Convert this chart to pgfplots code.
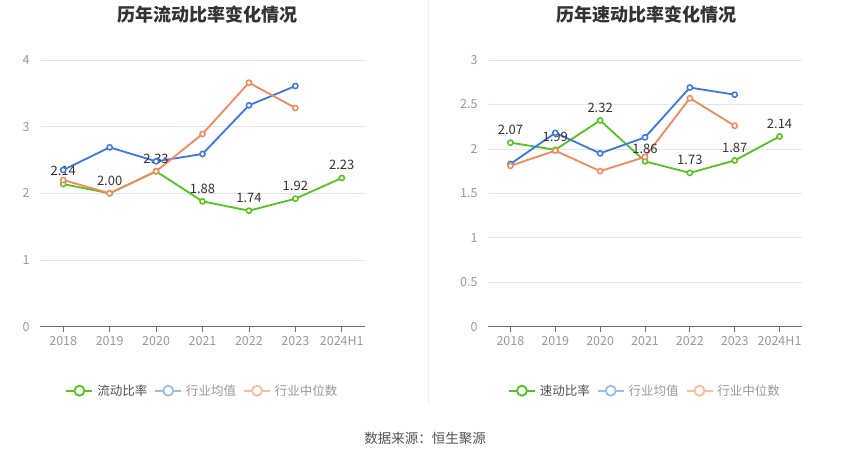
\documentclass[border=0pt]{standalone}
\usepackage{pgfplots}
\pgfplotsset{compat=1.18}
\usepackage{fontspec}
\setmainfont{Noto Sans CJK SC}
\definecolor{cgreen}{HTML}{52C41A}
\definecolor{cblue}{HTML}{3A76E6}
\definecolor{corange}{HTML}{F5875A}
\definecolor{cbluef}{HTML}{9DBBF3}
\definecolor{corangef}{HTML}{F9BDA3}
\definecolor{gridc}{HTML}{E0E6F1}
\definecolor{axisc}{HTML}{6E7079}
\definecolor{tickc}{HTML}{999999}
\definecolor{labc}{HTML}{333333}
\definecolor{titlec}{HTML}{333333}
\definecolor{sepc}{HTML}{EEEEEE}
\pgfplotsset{
  myax/.style={
    scale only axis, clip=false,
    xmin=-0.5, xmax=6.5, ymin=0,
    xtick={0,1,2,3,4,5,6},
    xticklabels={2018,2019,2020,2021,2022,2023,2024H1},
    ymajorgrids, grid style={gridc, line width=0.8pt},
    axis x line*=bottom, axis y line*=left,
    x axis line style={axisc, line width=0.8pt, -},
    y axis line style={draw=none},
    ytick style={draw=none},
    xtick style={axisc, line width=0.8pt},
    tick align=outside, major tick length=5pt,
    ticklabel style={font=\fontsize{12.5}{14}\selectfont, text=tickc},
    xticklabel style={yshift=-1pt},
    yticklabel style={xshift=-2pt},
    /pgf/number format/assume math mode=true,
    legend columns=3,
    legend style={draw=none, fill=none, font=\fontsize{12.5}{15}\selectfont,
      at={(0.5,-0.24)}, anchor=center,
      /tikz/every odd column/.style={column sep=2pt},
      /tikz/every even column/.style={column sep=5pt}},
    legend cell align=left,
    legend image code/.code={
      \draw[##1, line width=1.8pt] (0pt,0pt) -- (26pt,0pt);
      \draw[##1, line width=1.8pt, fill=white] (13pt,0pt) circle (5pt);
    },
  },
  ser/.style={line width=1.8pt, mark=*, mark size=2.6pt,
    mark options={fill=white, solid, line width=1.5pt}},
  lab/.style={nodes near coords={\pgfmathprintnumber[fixed,fixed zerofill,precision=2]{\pgfplotspointmeta}},
    every node near coord/.append style={font=\fontsize{13}{15}\selectfont, text=labc, anchor=south, yshift=4pt}},
}
\begin{document}
\begin{tikzpicture}[x=1pt,y=1pt]
\path[use as bounding box] (0,0) rectangle (850,459);
\draw[sepc, line width=0.8pt] (428.5,459) -- (428.5,54);
\node[font=\bfseries\fontsize{18}{21}\selectfont, text=titlec] at (207,444) {历年流动比率变化情况};
\node[font=\bfseries\fontsize{18}{21}\selectfont, text=titlec] at (646,444) {历年速动比率变化情况};
\node[font=\fontsize{13.5}{16}\selectfont, text=labc!85] at (425,21) {数据来源：恒生聚源};

\begin{axis}[myax, at={(40pt,132.3pt)}, anchor=south west, width=325pt, height=266.7pt,
  ymax=4, ytick={0,1,2,3,4}]
\addlegendimage{cgreen}
\addlegendentry{\textcolor{labc!85}{流动比率}}
\addlegendimage{cbluef}
\addlegendentry{\textcolor{tickc}{行业均值}}
\addlegendimage{corangef}
\addlegendentry{\textcolor{tickc}{行业中位数}}
\addplot[ser, cgreen, lab, forget plot] coordinates {(0,2.14) (1,2.00) (2,2.33) (3,1.88) (4,1.74) (5,1.92) (6,2.23)};
\addplot[ser, cblue, forget plot] coordinates {(0,2.35) (1,2.69) (2,2.48) (3,2.59) (4,3.32) (5,3.61)};
\addplot[ser, corange, forget plot] coordinates {(0,2.20) (1,2.00) (2,2.33) (3,2.89) (4,3.66) (5,3.28)};
\end{axis}

\begin{axis}[myax, at={(488pt,132.3pt)}, anchor=south west, width=314pt, height=266.7pt,
  ymax=3, ytick={0,0.5,1,1.5,2,2.5,3}]
\addlegendimage{cgreen}
\addlegendentry{\textcolor{labc!85}{速动比率}}
\addlegendimage{cbluef}
\addlegendentry{\textcolor{tickc}{行业均值}}
\addlegendimage{corangef}
\addlegendentry{\textcolor{tickc}{行业中位数}}
\addplot[ser, cgreen, lab, forget plot] coordinates {(0,2.07) (1,1.99) (2,2.32) (3,1.86) (4,1.73) (5,1.87) (6,2.14)};
\addplot[ser, cblue, forget plot] coordinates {(0,1.83) (1,2.18) (2,1.95) (3,2.13) (4,2.69) (5,2.61)};
\addplot[ser, corange, forget plot] coordinates {(0,1.81) (1,1.98) (2,1.75) (3,1.91) (4,2.57) (5,2.26)};
\end{axis}
\end{tikzpicture}
\end{document}
